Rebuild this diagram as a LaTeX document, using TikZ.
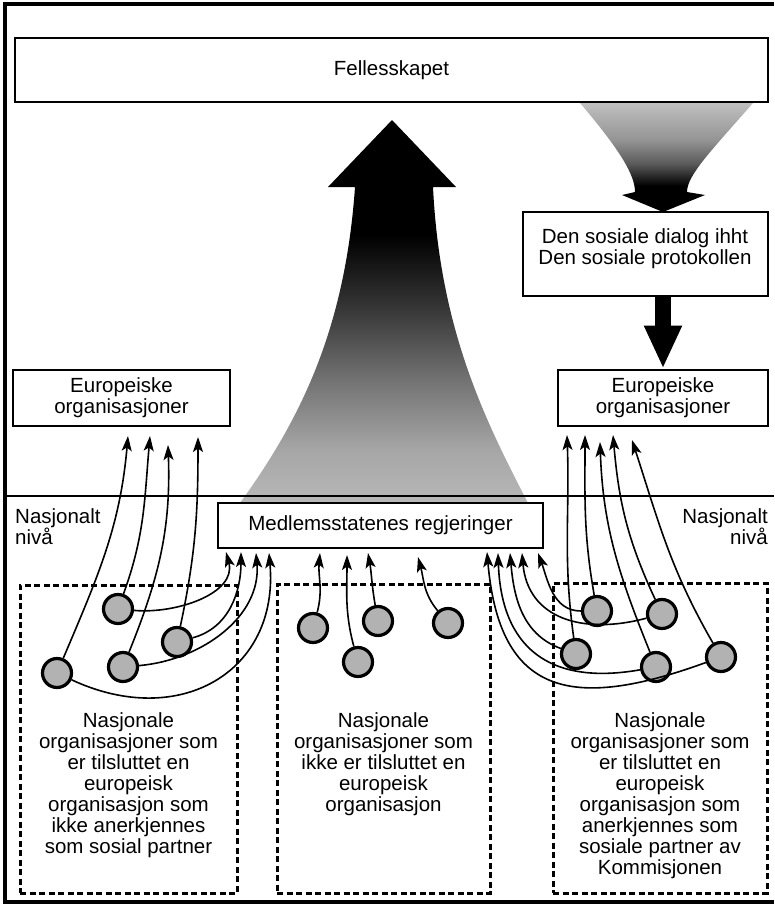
\documentclass[tikz,border=0pt]{standalone}
\usepackage{fontspec}
\setmainfont{Liberation Sans}
\usetikzlibrary{arrows.meta}

\newcommand{\orgfont}{\fontsize{20.5}{21}\selectfont}

\pgfdeclareverticalshading{risefade}{100bp}{color(0bp)=(black!28); color(25bp)=(black!28); color(32bp)=(black!35); color(41bp)=(black!55); color(51bp)=(black!80); color(60bp)=(black); color(100bp)=(black)}
\pgfdeclareverticalshading{sinkfade}{100bp}{color(0bp)=(black); color(37bp)=(black); color(47bp)=(black!65); color(58bp)=(black!42); color(75bp)=(black!25); color(100bp)=(black!25)}

\tikzset{
  box/.style={draw, line width=2.8pt, fill=white, inner sep=0pt, align=center, font=\orgfont},
  grp/.style={draw, line width=3pt, dash pattern=on 6pt off 3.5pt, inner sep=0pt},
  txt/.style={inner sep=0pt, align=center, font=\orgfont},
  org/.style={circle, draw, line width=3.2pt, fill=black!30, minimum size=29pt, inner sep=0pt},
  link/.style={line width=1.6pt, -{Stealth[length=15pt,width=10pt,inset=3.5pt]}}
}

\begin{document}
\begin{tikzpicture}[x=1pt, y=1pt]
\useasboundingbox (0,0) rectangle (774,-905);

% frame
\draw[line width=3.5pt] (774,-4) -- (5,-4) -- (5,-902) -- (774,-902);

% funnel down to the dialog and the big arrow up
\shade[shading=sinkfade] (580,-103) -- (753,-103) .. controls (712,-150) and (687,-175) .. (687,-192) -- (705,-195) -- (663,-212) -- (622,-195) -- (635,-192) .. controls (635,-175) and (620,-150) .. (580,-103) -- cycle;
\shade[shading=risefade] (392,-120) -- (456,-187) -- (433,-187) .. controls (440,-330) and (485,-420) .. (528,-503) -- (240,-503) .. controls (300,-420) and (345,-330) .. (355,-187) -- (328,-187) -- cycle;

% nasjonalt niva
\draw[line width=2.5pt] (5,-496) -- (774,-496);

\node[box, minimum width=753pt, minimum height=64pt] (fell) at (391.5,-70) {Fellesskapet};
\node[box, minimum width=245pt, minimum height=84pt] (dialog) at (645.5,-254) {};
\node[txt, anchor=north] (dialogtxt) at (645,-228) {Den sosiale dialog ihht\\Den sosiale protokollen};
\node[box, minimum width=217pt, minimum height=56pt] (euL) at (121.5,-398) {Europeiske\\organisasjoner};
\node[box, minimum width=210pt, minimum height=56pt] (euR) at (663,-398) {Europeiske\\organisasjoner};
\node[box, minimum width=325pt, minimum height=45pt] (med) at (380.5,-525.5) {Medlemsstatenes regjeringer};
\node[txt, anchor=north west, align=left] (natL) at (15,-508) {Nasjonalt\\nivå};
\node[txt, anchor=north east, align=right] (natR) at (768,-508) {Nasjonalt\\nivå};

\draw[line width=16pt, -{Triangle[length=43pt,width=35pt]}] (dialog.south -| euR.north) -- (euR.north);

% the three groups
\node[grp, minimum width=217pt, minimum height=308pt] (gL) at (128.5,-739) {};
\node[grp, minimum width=213pt, minimum height=309pt] (gM) at (383.5,-738.5) {};
\node[grp, minimum width=214pt, minimum height=310pt] (gR) at (660,-738) {};

\node[txt, anchor=north] (tL) at (128.5,-712) {Nasjonale\\organisasjoner som\\er tilsluttet en\\europeisk\\organisasjon som\\ikke anerkjennes\\som sosial partner};
\node[txt, anchor=north] (tM) at (383.5,-712) {Nasjonale\\organisasjoner som\\ikke er tilsluttet en\\europeisk\\organisasjon};
\node[txt, anchor=north] (tR) at (660,-712) {Nasjonale\\organisasjoner som\\er tilsluttet en\\europeisk\\organisasjon som\\anerkjennes som\\sosiale partner av\\Kommisjonen};

% national organisations
\foreach \n/\x/\y in {L1/118/609, L2/177/642, L3/123/667, L4/57/673, M1/313/628, M2/378/621, M3/448/623, M4/358/662, R1/597/611, R2/662/614, R3/576/654, R4/656/667, R5/721/657}
  \node[org] (\n) at (\x,-\y) {};

% arrow ends
\foreach \n/\x/\y in {eL1/128/436, eL2/150/436, eL3/168/445, eL4/198/437, mL1/226/552, mL2/241/552, mL3/256/553, mL4/269/553, mM1/320/553, mM4/347/555, mM2/368/553, mM3/418/557, mR5/487/552, mR4/498/553, mR3/510/553, mR2/522/553, mR1/538/553, eR3/567/435, eR1/585/435, eR4/600/442, eR2/613/435, eR5/632/440}
  \coordinate (\n) at (\x,-\y);

\draw[link] (L4) to[out=67,in=-95] (eL1);
\draw[link] (L1) to[out=70,in=-95] (eL2);
\draw[link] (L3) to[out=68,in=-88] (eL3);
\draw[link] (L2) to[out=78,in=-90] (eL4);
\draw[link] (L1) to[out=-5,in=-75] (mL1);
\draw[link] (L2) to[out=15,in=-90] (mL2);
\draw[link] (L3) to[out=5,in=-85] (mL3);
\draw[link] (L4) to[out=-25,in=-85,looseness=1.3] (mL4);

\draw[link] (M1) to[out=75,in=-95] (mM1);
\draw[link] (M4) to[out=105,in=-90] (mM4);
\draw[link] (M2) to[out=100,in=-80] (mM2);
\draw[link] (M3) to[out=130,in=-75] (mM3);

\draw[link] (R1) to[out=180,in=-70] (mR1);
\draw[link] (R2) to[out=195,in=-85,looseness=1.2] (mR2);
\draw[link] (R3) to[out=160,in=-85] (mR3);
\draw[link] (R4) to[out=190,in=-88,looseness=1.3] (mR4);
\draw[link] (R5) to[out=200,in=-85,looseness=1.5] (mR5);

\draw[link] (R3) to[out=98,in=-88] (eR3);
\draw[link] (R1) to[out=100,in=-90] (eR1);
\draw[link] (R4) to[out=112,in=-88] (eR4);
\draw[link] (R2) to[out=115,in=-85] (eR2);
\draw[link] (R5) to[out=120,in=-72] (eR5);
\end{tikzpicture}
\end{document}
